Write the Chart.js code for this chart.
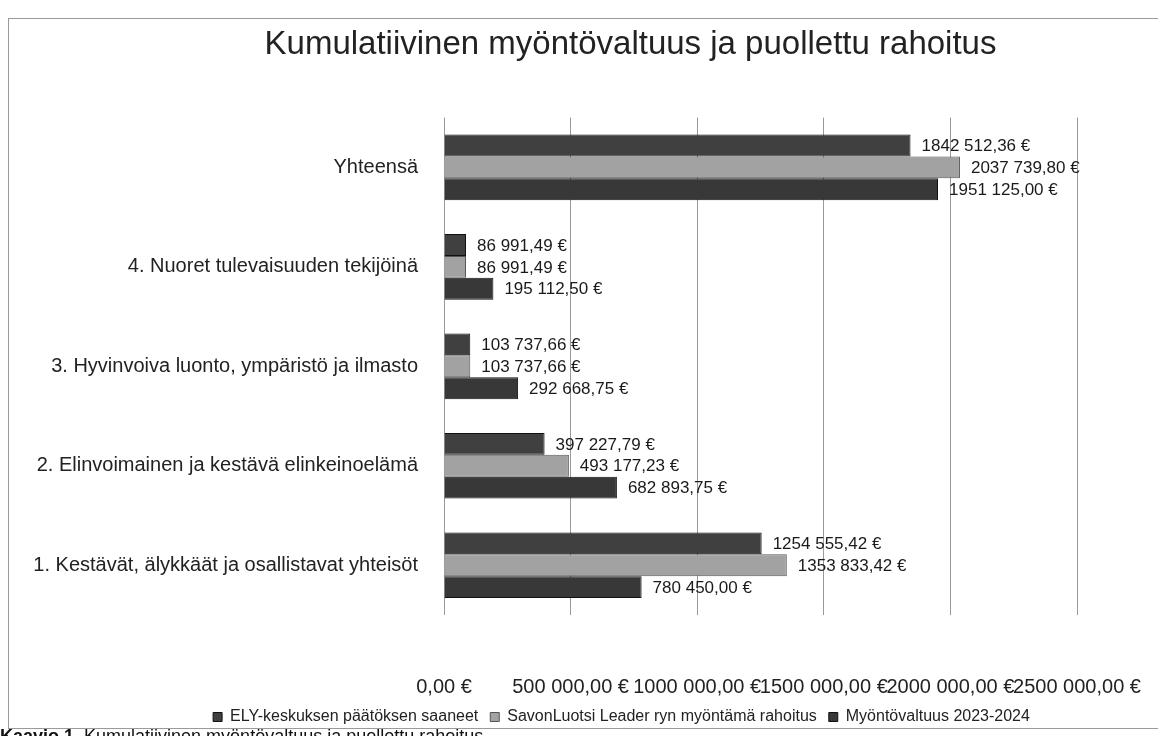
<!DOCTYPE html>
<html>
<head>
<meta charset="utf-8">
<script src="https://cdn.jsdelivr.net/npm/chart.js@4"></script>
<style>
  html, body { margin: 0; padding: 0; background: #fff; overflow: hidden; width: 1158px; height: 736px; }
  #frame { position: absolute; left: 8px; top: 18px; width: 1160px; height: 709px;
           border-top: 1px solid #9a9a9a; border-left: 1px solid #9a9a9a; border-bottom: 1px solid #9a9a9a; }
  #chart { position: absolute; left: 8px; top: 18px; }
  #caption { position: absolute; left: 0; top: 727px; font: 18px "Liberation Sans", sans-serif; color: #111; line-height: 18px; white-space: nowrap; }
</style>
</head>
<body>
<div id="frame"></div>
<canvas id="chart" width="1244" height="717"></canvas>
<div id="caption"><b>Kaavio 1.</b> Kumulatiivinen myöntövaltuus ja puollettu rahoitus</div>
<script>
const categories = [
  "Yhteensä",
  "4. Nuoret tulevaisuuden tekijöinä",
  "3. Hyvinvoiva luonto, ympäristö ja ilmasto",
  "2. Elinvoimainen ja kestävä elinkeinoelämä",
  "1. Kestävät, älykkäät ja osallistavat yhteisöt",
];
const seriesNames = [
  "ELY-keskuksen päätöksen saaneet",
  "SavonLuotsi Leader ryn myöntämä rahoitus",
  "Myöntövaltuus 2023-2024",
];
const elyValues = [1842512.36, 86991.49, 103737.66, 397227.79, 1254555.42];
const savonValues = [2037739.8, 86991.49, 103737.66, 493177.23, 1353833.42];
const valtuusValues = [1951125.0, 195112.5, 292668.75, 682893.75, 780450.0];
const xMax = 2500000;
const xStep = 500000;

const FONT = "'Liberation Sans', Arial, sans-serif";

function euro(v) {
  let [i, d] = v.toFixed(2).split(".");
  let n = parseInt(i);
  let s = n >= 1000 ? Math.floor(n / 1000) + " " + String(n % 1000).padStart(3, "0") : String(n);
  return s + "," + d + " €";
}

// value text just past the end of each bar
const valueLabels = {
  id: "valueLabels",
  afterDatasetsDraw(chart) {
    const ctx = chart.ctx;
    ctx.save();
    ctx.font = "17px " + FONT;
    ctx.fillStyle = "#1a1a1a";
    ctx.textBaseline = "middle";
    chart.data.datasets.forEach((ds, i) => {
      chart.getDatasetMeta(i).data.forEach((bar, j) => {
        ctx.fillText(euro(ds.data[j]), bar.x + 11, bar.y + 1);
      });
    });
    ctx.restore();
  },
};

// title and legend sit a bit right of the canvas centre in the original
const shiftBlocks = {
  id: "shiftBlocks",
  afterLayout(chart) {
    chart.titleBlock.left += 88;
    chart.titleBlock.right += 88;
    chart.legend.left += 79;
    chart.legend.right += 79;
  },
};

new Chart(document.getElementById("chart"), {
  type: "bar",
  data: {
    labels: categories,
    datasets: [
      { label: seriesNames[0], data: elyValues, backgroundColor: "#404040", borderColor: "#111", borderWidth: 1 },
      { label: seriesNames[1], data: savonValues, backgroundColor: "#a2a2a2", borderColor: "#555", borderWidth: 1 },
      { label: seriesNames[2], data: valtuusValues, backgroundColor: "#383838", borderColor: "#111", borderWidth: 1 },
    ],
  },
  options: {
    indexAxis: "y",
    responsive: false,
    devicePixelRatio: 1,
    animation: false,
    categoryPercentage: 0.66,
    barPercentage: 1,
    layout: { padding: { left: 0, right: 175, top: 0, bottom: 0 } },
    plugins: {
      title: {
        display: true,
        text: "Kumulatiivinen myöntövaltuus ja puollettu rahoitus",
        color: "#222",
        font: { family: FONT, size: 33, weight: "normal" },
        padding: { top: 7, bottom: 53 },
      },
      legend: {
        position: "bottom",
        labels: {
          color: "#222",
          boxWidth: 9,
          boxHeight: 9,
          padding: 12,
          font: { family: FONT, size: 16 },
        },
      },
      tooltip: { enabled: false },
    },
    scales: {
      x: {
        min: 0,
        max: xMax,
        grid: { color: "#999", drawTicks: false },
        border: { display: false },
        afterFit(scale) { scale.height = 82; },
        ticks: {
          stepSize: xStep,
          autoSkip: false,
          maxRotation: 0,
          padding: 60,
          color: "#222",
          font: { family: FONT, size: 20 },
          callback: (v) => euro(v),
        },
      },
      y: {
        grid: { display: false },
        border: { display: false },
        afterFit(scale) { scale.width = 436; },
        ticks: {
          padding: 18,
          color: "#222",
          font: { family: FONT, size: 20 },
        },
      },
    },
  },
  plugins: [valueLabels, shiftBlocks],
});
</script>
</body>
</html>
